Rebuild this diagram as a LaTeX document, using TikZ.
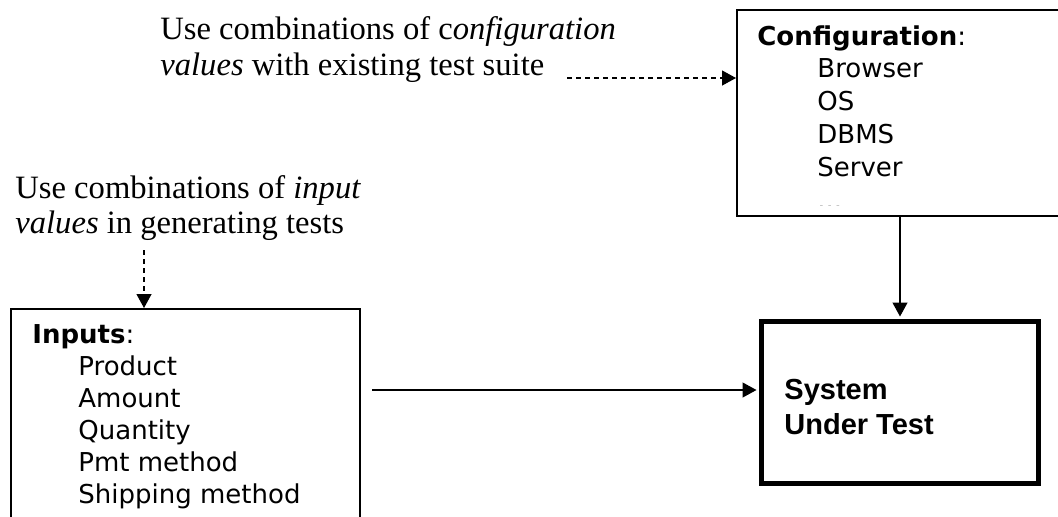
\documentclass[tikz,border=0pt]{standalone}
\usepackage{fontspec}
\setmainfont{Liberation Serif}
\newfontfamily\verdana{DejaVu Sans}
\newfontfamily\arial{Liberation Sans}
\usetikzlibrary{arrows.meta,positioning}

\tikzset{
  listbox/.style={draw, line width=0.75pt, inner sep=0pt, anchor=north west},
  sutbox/.style={draw, line width=2.5pt, inner sep=0pt,
    minimum width=138.5pt, minimum height=81pt},
  note/.style={anchor=base west, inner sep=0pt},
  listtext/.style={anchor=base west, inner sep=0pt},
  plain/.style={-{Triangle[length=7pt,width=7.5pt]}, line width=0.6pt},
  dashy/.style={plain, dash pattern=on 2.5pt off 2pt}
}

\begin{document}
\begin{tikzpicture}[x=0.5pt, y=-0.5pt]

    \fill[white] (0,0) rectangle (1058,516);
    \useasboundingbox (0,0) rectangle (1058,516);

    % the two boxes of values
    \node[listbox, minimum width=172pt, minimum height=103pt] (config) at (736,9) {};
    \node[listbox, minimum width=174.5pt, minimum height=115pt] (inputs) at (10,308) {};

    \begin{scope}
      \clip (736,9) rectangle (1058,205);
      \node[listtext] (cfglist) at (757,45) {\verdana\fontsize{13}{16.4}\selectfont
        \begin{tabular}[t]{@{\hspace*{30pt}}l@{}}
          \multicolumn{1}{@{}l@{}}{\textbf{Configuration}:}\\
          Browser\\ OS\\ DBMS\\ Server\\ ...
        \end{tabular}};
    \end{scope}

    \begin{scope}
      \clip (10,308) rectangle (359,508);
      \node[listtext] (inlist) at (32,343) {\verdana\fontsize{13}{16}\selectfont
        \begin{tabular}[t]{@{\hspace*{23pt}}l@{}}
          \multicolumn{1}{@{}l@{}}{\textbf{Inputs}:}\\
          Product\\ Amount\\ Quantity\\ Pmt method\\ Shipping method
        \end{tabular}};
    \end{scope}

    \node[sutbox] (sut) at (900,402.5) {};
    \node[listtext] (sutname) at (784,399) {\arial\bfseries\fontsize{14.5}{17.5}\selectfont
        \begin{tabular}[t]{@{}l@{}}
          System\\ Under Test
        \end{tabular}};

    % notes
    \node[note] (cfgnote) at (160,39) {\fontsize{16.3}{18}\selectfont
      \begin{tabular}[t]{@{}l@{}}
        Use combinations of c\textit{onfiguration}\\
        \textit{values} with existing test suite
      \end{tabular}};
    \node[note] (innote) at (15,198) {\fontsize{16.3}{17.5}\selectfont
      \begin{tabular}[t]{@{}l@{}}
        Use combinations of \textit{input}\\
        \textit{values} in generating tests
      \end{tabular}};

    \coordinate (cfgtail) at (567,78);
    \coordinate (intail) at (144,250);
    \coordinate (suttail) at (372,390);

    \draw [dashy] (cfgtail) -- (cfgtail -| config.west);
    \draw [dashy] (intail) -- (intail |- inputs.north);
    \draw [plain, shorten >=1.25pt] (suttail) -- (suttail -| sut.west);
    \draw [plain, shorten >=1.25pt] (sut.north |- config.south) -- (sut.north);

  \end{tikzpicture}
\end{document}
